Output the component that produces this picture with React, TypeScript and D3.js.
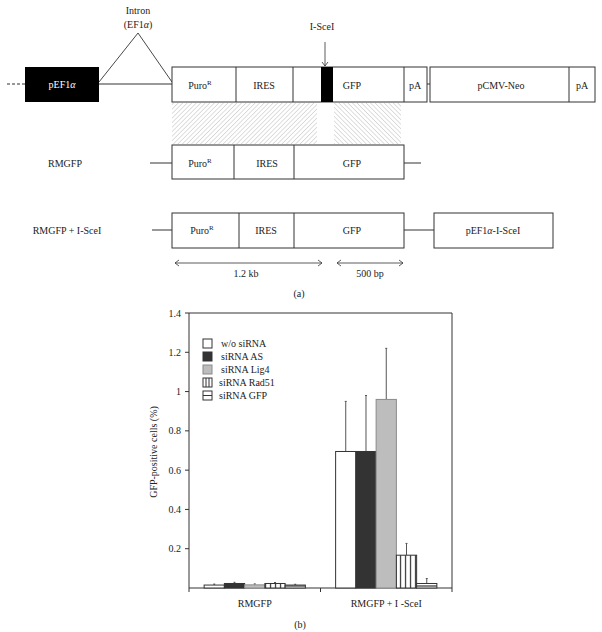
import React from "react";
import * as d3 from "d3";

// bar chart data
const categories = ["RMGFP", "RMGFP + I -SceI"];
const seriesNames = ["w/o siRNA", "siRNA AS", "siRNA Lig4", "siRNA Rad51", "siRNA GFP"];
const woSiRNA = [0.015, 0.695];
const siAS = [0.023, 0.695];
const siLig4 = [0.016, 0.96];
const siRad51 = [0.023, 0.167];
const siGFP = [0.015, 0.023];
const errWo = [0.005, 0.255];
const errAS = [0.006, 0.285];
const errLig4 = [0.005, 0.26];
const errRad51 = [0.005, 0.06];
const errGFP = [0.004, 0.025];
const yTicks = [0.2, 0.4, 0.6, 0.8, 1, 1.2, 1.4];

const values = [woSiRNA, siAS, siLig4, siRad51, siGFP];
const errors = [errWo, errAS, errLig4, errRad51, errGFP];

const FONT = "'Liberation Serif', 'DejaVu Serif', serif";
const INK = "#333";

const fills = ["#fff", "#333", "#bdbdbd", "url(#vstripe)", "url(#hstripe)"];
const strokes = [INK, INK, "#8a8a8a", INK, INK];

const Puro = ({ x, y }: { x: number; y: number }) => (
  <text x={x} y={y} textAnchor="middle">
    Puro<tspan fontSize={7} dy={-4}>R</tspan>
  </text>
);

const Chevron = ({ x, y, dir }: { x: number; y: number; dir: number }) => (
  <path d={`M${x + dir * 4},${y - 3} L${x},${y} L${x + dir * 4},${y + 3}`} fill="none" stroke={INK} strokeWidth={0.8} />
);

const Diagram = () => (
  <g fontFamily={FONT} fontSize={10} fill="#222">
    <defs>
      <pattern id="hatchA" width={3.2} height={3.2} patternUnits="userSpaceOnUse" patternTransform="rotate(45)">
        <line x1={0} y1={0} x2={0} y2={3.2} stroke="#c4c4c4" strokeWidth={1.1} />
      </pattern>
      <pattern id="hatchB" width={3.2} height={3.2} patternUnits="userSpaceOnUse" patternTransform="rotate(-45)">
        <line x1={0} y1={0} x2={0} y2={3.2} stroke="#c4c4c4" strokeWidth={1.1} />
      </pattern>
    </defs>
    {/* row 1 */}
    <line x1={7} x2={25} y1={84} y2={84} stroke={INK} strokeDasharray="3,2" />
    <rect x={25} y={67} width={74} height={35} fill="#000" />
    <text x={62} y={88} textAnchor="middle" fill="#fff">pEF1<tspan fontStyle="italic">α</tspan></text>
    <line x1={99} x2={172} y1={84} y2={84} stroke={INK} />
    <path d="M99,82 L138,33 L172,82" fill="none" stroke={INK} strokeWidth={0.9} />
    <text x={138} y={14} textAnchor="middle">Intron</text>
    <text x={138} y={28} textAnchor="middle">(EF1<tspan fontStyle="italic">α</tspan>)</text>
    <rect x={172} y={67} width={255} height={35} fill="#fff" stroke={INK} />
    {[236, 293, 404].map((x) => (
      <line key={x} x1={x} x2={x} y1={67} y2={102} stroke={INK} />
    ))}
    <rect x={321} y={67} width={12} height={35} fill="#000" />
    <Puro x={200} y={89} />
    <text x={264} y={89} textAnchor="middle">IRES</text>
    <text x={352} y={89} textAnchor="middle">GFP</text>
    <text x={415} y={89} textAnchor="middle">pA</text>
    <line x1={427} x2={430} y1={84} y2={84} stroke={INK} />
    <rect x={430} y={67} width={165} height={35} fill="#fff" stroke={INK} />
    <line x1={569} x2={569} y1={67} y2={102} stroke={INK} />
    <text x={501} y={89} textAnchor="middle">pCMV-Neo</text>
    <text x={582} y={89} textAnchor="middle">pA</text>
    <text x={322} y={30} textAnchor="middle">I-SceI</text>
    <line x1={325} x2={325} y1={42} y2={66} stroke={INK} strokeWidth={0.8} />
    <path d="M322,62 L325,66 L328,62" fill="none" stroke={INK} strokeWidth={0.8} />
    {/* homology */}
    <rect x={172} y={103} width={145} height={41} fill="url(#hatchA)" />
    <rect x={334} y={103} width={67} height={41} fill="url(#hatchB)" />
    {/* row 2 */}
    <text x={65} y={167} textAnchor="middle">RMGFP</text>
    <line x1={150} x2={172} y1={163} y2={163} stroke={INK} />
    <rect x={172} y={145} width={232} height={34} fill="#fff" stroke={INK} />
    <line x1={234} x2={234} y1={145} y2={179} stroke={INK} />
    <line x1={294} x2={294} y1={145} y2={179} stroke={INK} />
    <line x1={404} x2={421} y1={163} y2={163} stroke={INK} />
    <Puro x={200} y={167} />
    <text x={267} y={167} textAnchor="middle">IRES</text>
    <text x={352} y={167} textAnchor="middle">GFP</text>
    {/* row 3 */}
    <text x={67} y={234} textAnchor="middle">RMGFP + I-SceI</text>
    <line x1={152} x2={172} y1={230} y2={230} stroke={INK} />
    <rect x={172} y={213} width={232} height={35} fill="#fff" stroke={INK} />
    <line x1={239} x2={239} y1={213} y2={248} stroke={INK} />
    <line x1={294} x2={294} y1={213} y2={248} stroke={INK} />
    <line x1={404} x2={434} y1={230} y2={230} stroke={INK} />
    <rect x={434} y={213} width={119} height={35} fill="#fff" stroke={INK} />
    <Puro x={202} y={234} />
    <text x={266} y={234} textAnchor="middle">IRES</text>
    <text x={352} y={234} textAnchor="middle">GFP</text>
    <text x={493} y={234} textAnchor="middle">pEF1<tspan fontStyle="italic">α</tspan>-I-SceI</text>
    {/* scale */}
    <line x1={175} x2={322} y1={263} y2={263} stroke={INK} strokeWidth={0.8} />
    <Chevron x={175} y={263} dir={1} />
    <Chevron x={322} y={263} dir={-1} />
    <line x1={337} x2={403} y1={263} y2={263} stroke={INK} strokeWidth={0.8} />
    <Chevron x={337} y={263} dir={1} />
    <Chevron x={403} y={263} dir={-1} />
    <text x={246} y={277} textAnchor="middle">1.2 kb</text>
    <text x={370} y={277} textAnchor="middle">500 bp</text>
    <text x={299} y={297} textAnchor="middle">(a)</text>
  </g>
);

const BarChart = () => {
  const left = 189, right = 452, top = 313, bottom = 588;
  const y = d3.scaleLinear().domain([0, 1.4]).range([bottom, top]);
  const x0 = d3.scaleBand<string>().domain(categories).range([left, right]).paddingInner(0.23).paddingOuter(0.115);
  const x1 = d3.scaleBand<number>().domain(d3.range(seriesNames.length)).range([0, x0.bandwidth()]);
  const bw = x1.bandwidth();

  return (
    <g fontFamily={FONT} fontSize={10} fill="#222">
      <defs>
        <pattern id="vstripe" width={5} height={10} patternUnits="userSpaceOnUse" x={x0(categories[0])! + (x1(3) ?? 0)}>
          <rect width={5} height={10} fill="#fff" />
          <line x1={0.6} x2={0.6} y1={0} y2={10} stroke={INK} strokeWidth={1.2} />
        </pattern>
        <pattern id="hstripe" width={10} height={4} patternUnits="userSpaceOnUse" y={bottom}>
          <rect width={10} height={4} fill="#fff" />
          <line x1={0} x2={10} y1={2} y2={2} stroke={INK} strokeWidth={1.2} />
        </pattern>
      </defs>
      {/* frame */}
      <path d={`M${left},${bottom} V${top} H${right} V${bottom} Z`} fill="none" stroke={INK} strokeWidth={1} />
      {yTicks.map((t) => (
        <g key={t}>
          <line x1={left - 4} x2={left} y1={y(t)} y2={y(t)} stroke={INK} />
          <text x={left - 8} y={y(t) + 3.5} textAnchor="end">{d3.format("~g")(t)}</text>
        </g>
      ))}
      {[left, (left + right) / 2, right].map((tx) => (
        <line key={tx} x1={tx} x2={tx} y1={bottom} y2={bottom + 4} stroke={INK} />
      ))}
      {categories.map((c, ci) => (
        <g key={c}>
          {values.map((vals, si) => {
            const bx = x0(c)! + x1(si)!;
            const v = vals[ci];
            const e = errors[si][ci];
            return (
              <g key={si}>
                <line x1={bx + bw / 2} x2={bx + bw / 2} y1={y(v)} y2={y(v + e)} stroke="#555" strokeWidth={1} />
                <line x1={bx + bw / 2 - 1} x2={bx + bw / 2 + 1} y1={y(v + e)} y2={y(v + e)} stroke="#555" strokeWidth={1} />
                <rect x={bx} y={y(v)} width={bw} height={y(0) - y(v)} fill={fills[si]} stroke={strokes[si]} strokeWidth={1} />
              </g>
            );
          })}
          <text x={x0(c)! + x0.bandwidth() / 2} y={607} textAnchor="middle">{c}</text>
        </g>
      ))}
      {/* legend */}
      {seriesNames.map((s, i) => (
        <g key={s} transform={`translate(203,${339 + i * 13})`}>
          <rect x={0} y={0} width={9} height={9} fill={i < 3 ? fills[i] : "#fff"} stroke={strokes[i]} />
          {i === 3 && (
            <>
              <line x1={3} x2={3} y1={0} y2={9} stroke={INK} />
              <line x1={6} x2={6} y1={0} y2={9} stroke={INK} />
            </>
          )}
          {i === 4 && <line x1={0} x2={9} y1={4.5} y2={4.5} stroke={INK} />}
          <text x={i < 3 ? 18 : 16} y={8}>{s}</text>
        </g>
      ))}
      <text transform={`translate(157,${452}) rotate(-90)`} textAnchor="middle">GFP-positive cells (%)</text>
      <text x={300} y={628} textAnchor="middle">(b)</text>
    </g>
  );
};

export default function App() {
  return (
    <svg width={602} height={632} style={{ display: "block", position: "absolute", left: 0, top: 0 }}>
      <rect width={602} height={632} fill="#fff" />
      <Diagram />
      <BarChart />
    </svg>
  );
}
